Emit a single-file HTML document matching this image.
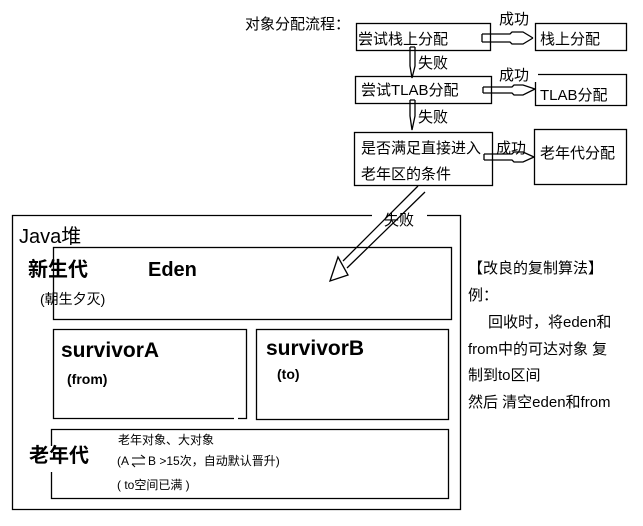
<!DOCTYPE html>
<html><head><meta charset="utf-8"><style>
body{margin:0;background:#fff}
svg text{font-family:"Liberation Sans","Noto Sans CJK SC",sans-serif;fill:#000}
</style></head><body>
<svg width="643" height="521" viewBox="0 0 643 521" xmlns="http://www.w3.org/2000/svg">
<g fill="none" stroke="#000" stroke-width="1.3">
<rect x="356.5" y="23.5" width="134" height="27"/>
<rect x="535.5" y="23.5" width="91" height="27"/>
<rect x="355.5" y="76.5" width="136" height="27"/>
<path d="M538 74.5H626.5V105.5H535.5V82"/>
<rect x="354.5" y="132.5" width="138" height="53"/>
<rect x="534.5" y="129.5" width="92" height="55"/>
<path d="M372 215.5H12.5V509.5H460.5V215.5H427"/>
<rect x="53.5" y="247.5" width="398" height="72"/>
<path d="M234 418.5H53.5V329.5H246.5V418.5H238"/>
<rect x="256.5" y="329.5" width="192" height="90"/>
<path d="M51.5 446V429.5H448.5V498.5H51.5V472"/>
<path d="M482 34H510L512 32H523L533 38M482 42H510L512 44H523L533 38M482 34V42"/>
<path d="M483 87H512L514 85H523L535 89M483 93H512L514 95H523L535 89M483 87V93"/>
<path d="M484 154H512L514 152H523L534 157M484 160H512L514 162H523L534 157M484 154V160"/>
<path d="M410 47V66L412 78L415 66V47M410 47H415"/>
<path d="M410 100V116L412 130L415 116V100M410 100H415"/>
<path d="M418 186L343 261M425 192L347 268M338 257L330 281L348 275Z"/>
</g>
<g font-size="15">
<text x="245" y="29">对象分配流程：</text>
<text x="358" y="44">尝试栈上分配</text>
<text x="540" y="44">栈上分配</text>
<text x="499" y="24">成功</text>
<text x="418" y="68">失败</text>
<text x="361" y="95">尝试TLAB分配</text>
<text x="540" y="100">TLAB分配</text>
<text x="499" y="80">成功</text>
<text x="418" y="122">失败</text>
<text x="361" y="153">是否满足直接进入</text>
<text x="361" y="179">老年区的条件</text>
<text x="496" y="153">成功</text>
<text x="540" y="158">老年代分配</text>
<text x="384" y="225">失败</text>
<text x="468" y="273">【改良的复制算法】</text>
<text x="468" y="300">例：</text>
<text x="488" y="327">回收时，将eden和</text>
<text x="468" y="354">from中的可达对象 复</text>
<text x="468" y="380">制到to区间</text>
<text x="468" y="407">然后 清空eden和from</text>
</g>
<text x="19" y="243" font-size="20">Java堆</text>
<text x="28" y="276" font-size="20" font-weight="bold">新生代</text>
<text x="148" y="276" font-size="20" font-weight="bold">Eden</text>
<text x="40" y="304" font-size="14">(朝生夕灭)</text>
<text x="61" y="357" font-size="21" font-weight="bold">survivorA</text>
<text x="67" y="384" font-size="14" font-weight="bold">(from)</text>
<text x="266" y="355" font-size="21" font-weight="bold">survivorB</text>
<text x="277" y="379" font-size="14" font-weight="bold">(to)</text>
<text x="29" y="462" font-size="20" font-weight="bold">老年代</text>
<g font-size="12">
<text x="118" y="444">老年对象、大对象</text>
<text x="117" y="465">(A</text>
<text x="148" y="465">B &gt;15次，自动默认晋升)</text>
<text x="117" y="489">( to空间已满 )</text>
</g>
<path d="M132 458H145M132 464H145M141 455L145 458M135 467L132 464" stroke="#000" fill="none"/>
</svg>
</body></html>
